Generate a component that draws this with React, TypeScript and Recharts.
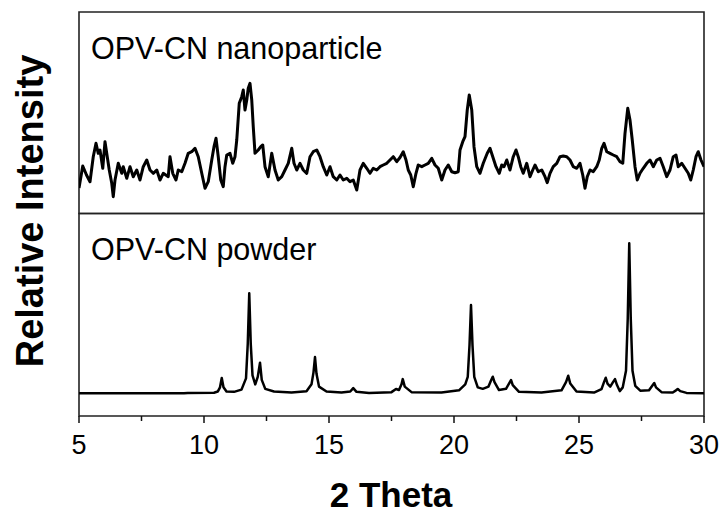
import React from 'react';
import { LineChart, Line, XAxis, YAxis, ReferenceArea, Label, Customized } from 'recharts';

const FONT = '"Liberation Sans", Arial, Helvetica, sans-serif';

// 2θ tick positions (majors carry labels)
const xTicks = [5, 7.5, 10, 12.5, 15, 17.5, 20, 22.5, 25, 27.5, 30];
const majorTicks = [5, 10, 15, 20, 25, 30];

const xTitle = '2 Theta';
const yTitle = 'Relative Intensity';
const panelLabels = ['OPV-CN nanoparticle', 'OPV-CN powder'];

// [2θ, intensity] – OPV-CN nanoparticle (noisy pattern)
const nanoparticle: [number, number][] = [
  [5.0, 250], [5.15, 470], [5.3, 380], [5.44, 313], [5.57, 563], [5.68, 697], [5.77, 597], [5.84, 630],
  [5.95, 447], [6.04, 713], [6.13, 563], [6.21, 430], [6.31, 297], [6.37, 163], [6.44, 330], [6.57, 497],
  [6.71, 397], [6.77, 463], [6.91, 347], [7.04, 463], [7.17, 363], [7.31, 430], [7.44, 330], [7.57, 463],
  [7.71, 530], [7.84, 430], [7.97, 397], [8.11, 430], [8.24, 330], [8.37, 397], [8.57, 363], [8.64, 563],
  [8.75, 397], [8.88, 330], [8.97, 430], [9.11, 413], [9.24, 497], [9.37, 597], [9.51, 613], [9.64, 647],
  [9.77, 563], [9.91, 397], [10.04, 247], [10.17, 313], [10.31, 530], [10.4, 663], [10.48, 747], [10.57, 563],
  [10.67, 330], [10.77, 263], [10.84, 463], [10.91, 580], [11.04, 597], [11.15, 497], [11.24, 563], [11.31, 730],
  [11.41, 1097], [11.51, 1163], [11.57, 1230], [11.64, 1030], [11.71, 1130], [11.77, 1247], [11.84, 1297],
  [11.91, 1130], [11.97, 863], [12.04, 597], [12.17, 630], [12.27, 663], [12.35, 680], [12.44, 463],
  [12.57, 363], [12.71, 597], [12.84, 430], [12.97, 330], [13.11, 363], [13.24, 430], [13.37, 497],
  [13.51, 647], [13.6, 497], [13.71, 430], [13.84, 497], [13.97, 430], [14.11, 397], [14.24, 563],
  [14.37, 613], [14.51, 630], [14.64, 563], [14.77, 463], [14.91, 380], [15.04, 463], [15.17, 363],
  [15.31, 330], [15.44, 380], [15.57, 330], [15.71, 347], [15.84, 313], [15.97, 330], [16.11, 230],
  [16.24, 430], [16.37, 497], [16.51, 447], [16.64, 397], [16.77, 447], [16.91, 430], [17.04, 463],
  [17.17, 480], [17.31, 497], [17.44, 530], [17.57, 563], [17.71, 513], [17.84, 555], [17.97, 613],
  [18.08, 530], [18.17, 430], [18.27, 380], [18.37, 263], [18.48, 397], [18.57, 480], [18.71, 463],
  [18.84, 480], [18.97, 497], [19.11, 547], [19.24, 480], [19.37, 447], [19.51, 330], [19.64, 430],
  [19.77, 480], [19.91, 413], [20.04, 403], [20.17, 413], [20.24, 630], [20.35, 713], [20.44, 763],
  [20.53, 1030], [20.61, 1180], [20.71, 1030], [20.8, 663], [20.91, 463], [21.04, 397], [21.17, 497],
  [21.33, 597], [21.44, 647], [21.55, 563], [21.68, 463], [21.81, 397], [21.91, 480], [22.0, 463],
  [22.11, 530], [22.24, 430], [22.37, 563], [22.48, 630], [22.57, 563], [22.67, 463], [22.77, 397],
  [22.91, 497], [23.04, 363], [23.15, 430], [23.24, 480], [23.37, 413], [23.51, 430], [23.64, 363],
  [23.73, 303], [23.84, 397], [23.97, 463], [24.11, 497], [24.24, 563], [24.37, 570], [24.51, 563],
  [24.64, 530], [24.77, 463], [24.91, 447], [25.04, 497], [25.15, 380], [25.24, 247], [25.33, 363],
  [25.44, 430], [25.57, 413], [25.71, 463], [25.81, 530], [25.91, 647], [26.0, 697], [26.11, 613],
  [26.24, 597], [26.37, 580], [26.51, 563], [26.64, 513], [26.75, 497], [26.84, 797], [26.95, 1047],
  [27.04, 930], [27.13, 730], [27.24, 463], [27.33, 330], [27.44, 397], [27.57, 447], [27.71, 497],
  [27.84, 530], [27.97, 463], [28.11, 530], [28.24, 547], [28.37, 463], [28.51, 363], [28.64, 430],
  [28.77, 563], [28.88, 580], [28.97, 463], [29.11, 497], [29.24, 447], [29.37, 397], [29.47, 330],
  [29.57, 430], [29.68, 563], [29.77, 613], [29.88, 530], [30.0, 463],
];

// [2θ, intensity] – OPV-CN powder (sharp reflections)
const powder: [number, number][] = [
  [5, 0], [9.2, 0], [9.35, 3], [10.4, 4], [10.55, 12], [10.64, 40], [10.71, 102], [10.78, 40], [10.9, 12],
  [11.2, 10], [11.5, 25], [11.68, 100], [11.75, 330], [11.81, 667], [11.87, 330], [11.94, 120], [12.05, 60],
  [12.15, 110], [12.24, 204], [12.31, 90], [12.45, 30], [12.8, 12], [13.5, 6], [14.1, 14], [14.3, 60],
  [14.38, 140], [14.44, 242], [14.5, 130], [14.6, 45], [14.9, 12], [15.5, 5], [15.85, 12], [15.97, 35],
  [16.1, 10], [16.6, 3], [17.5, 8], [17.68, 29], [17.8, 22], [17.9, 60], [17.95, 95], [18.03, 45],
  [18.3, 8], [19.5, 5], [20.2, 20], [20.45, 60], [20.55, 110], [20.62, 320], [20.68, 589], [20.74, 320],
  [20.81, 110], [20.95, 40], [21.15, 30], [21.38, 45], [21.48, 85], [21.55, 111], [21.62, 75], [21.8, 22],
  [22.08, 30], [22.2, 65], [22.28, 89], [22.35, 55], [22.6, 10], [23.5, 5], [24.3, 20], [24.48, 75],
  [24.57, 117], [24.65, 65], [24.9, 12], [25.6, 5], [25.9, 28], [26.0, 75], [26.07, 104], [26.14, 65],
  [26.25, 45], [26.36, 75], [26.44, 95], [26.52, 55], [26.63, 15], [26.75, 40], [26.88, 150], [26.95, 500],
  [27.01, 1000], [27.07, 500], [27.14, 150], [27.25, 50], [27.45, 18], [27.8, 20], [27.93, 50], [28.01, 69],
  [28.08, 40], [28.3, 8], [28.75, 6], [28.88, 20], [28.95, 29], [29.05, 15], [29.3, 3], [30, 0],
];

const nanoData = nanoparticle.map(([theta, intensity]) => ({ theta, intensity }));
const powderData = powder.map(([theta, intensity]) => ({ theta, intensity }));

const AxisTick = (props: any) => {
  const { x, y, payload } = props;
  const v = payload.value;
  const major = majorTicks.includes(v);
  return (
    <g>
      <line x1={x} x2={x} y1={y} y2={y + (major ? 7 : 5)} stroke="#111" strokeWidth={1.5} />
      {major && (
        <text x={x} y={y + 38} textAnchor="middle" fontSize={27} fontFamily={FONT} fill="#000">
          {String(v)}
        </text>
      )}
    </g>
  );
};

const panelLabel = (text: string) => (p: any) => {
  const vb = p.viewBox || {};
  return (
    <text x={vb.x + 12} y={vb.y + 47} fontSize={30.5} fontFamily={FONT} fill="#000">
      {text}
    </text>
  );
};

const Titles = () => (
  <g>
    <text
      x={43}
      y={211}
      transform="rotate(-90, 43, 211)"
      textAnchor="middle"
      fontSize={38}
      fontWeight="bold"
      fontFamily={FONT}
      fill="#000"
    >
      {yTitle}
    </text>
    <text x={391} y={507} textAnchor="middle" fontSize={35} fontWeight="bold" fontFamily={FONT} fill="#000">
      {xTitle}
    </text>
  </g>
);

export default function App() {
  return (
    <div style={{ position: 'absolute', left: 0, top: 0, width: 719, height: 513, background: '#fff' }}>
      <LineChart width={719} height={513} margin={{ top: 12, right: 15, bottom: 0, left: 79 }}>
        <XAxis
          dataKey="theta"
          type="number"
          domain={[5, 30]}
          ticks={xTicks}
          interval={0}
          allowDataOverflow
          height={97}
          axisLine={false}
          tickLine={false}
          tickSize={0}
          tickMargin={0}
          tick={<AxisTick />}
        />
        <YAxis yAxisId="powder" type="number" domain={[-151, 2542]} allowDataOverflow hide />
        <YAxis yAxisId="nano" type="number" domain={[-2030, 2010]} allowDataOverflow hide />
        <ReferenceArea
          yAxisId="powder"
          x1={5}
          x2={30}
          y1={1199}
          y2={2542}
          fill="none"
          stroke="#222"
          strokeWidth={1.6}
          ifOverflow="visible"
        >
          <Label content={panelLabel(panelLabels[0])} />
        </ReferenceArea>
        <ReferenceArea
          yAxisId="powder"
          x1={5}
          x2={30}
          y1={-151}
          y2={1199}
          fill="none"
          stroke="#222"
          strokeWidth={1.6}
          ifOverflow="visible"
        >
          <Label content={panelLabel(panelLabels[1])} />
        </ReferenceArea>
        <Line
          yAxisId="nano"
          data={nanoData}
          dataKey="intensity"
          type="linear"
          stroke="#000"
          strokeWidth={3}
          dot={false}
          isAnimationActive={false}
          strokeLinejoin="round"
        />
        <Line
          yAxisId="powder"
          data={powderData}
          dataKey="intensity"
          type="linear"
          stroke="#000"
          strokeWidth={2.5}
          dot={false}
          isAnimationActive={false}
          strokeLinejoin="round"
        />
        <Customized component={<Titles />} />
      </LineChart>
    </div>
  );
}
